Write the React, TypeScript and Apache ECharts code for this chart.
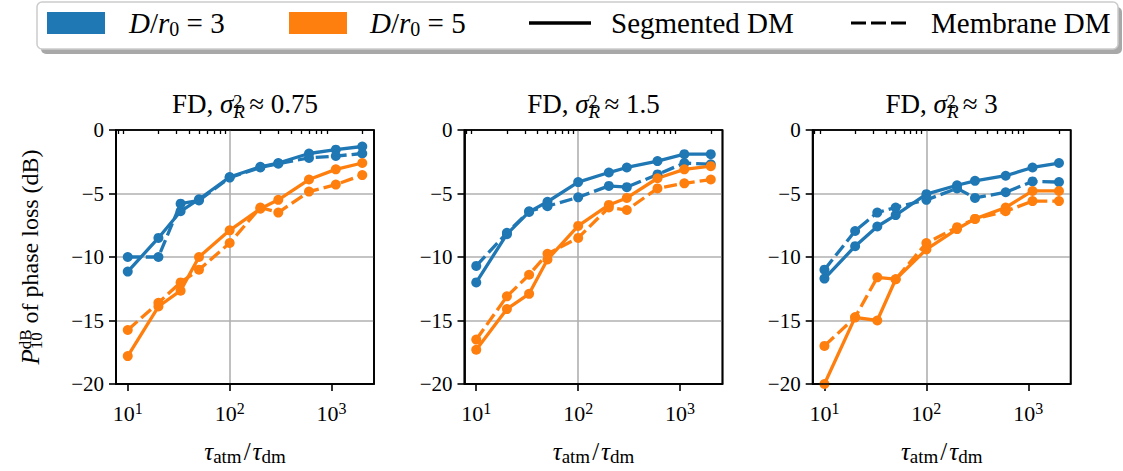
import React, { useEffect, useRef } from 'react';
import * as echarts from 'echarts';

// ---------------- data ----------------
const tauRatio = [10, 20, 33, 50, 100, 200, 300, 600, 1100, 2000];
const sigmaLabels = ['0.75', '1.5', '3'];

const seg3P1 = [-11.15, -8.5, -6.4, -5.45, -3.7, -2.9, -2.6, -1.85, -1.55, -1.3];
const mem3P1 = [-10.0, -10.0, -5.8, -5.55, -3.75, -2.95, -2.65, -2.2, -2.05, -1.85];
const seg5P1 = [-17.8, -13.9, -12.65, -10.0, -7.9, -6.2, -5.5, -3.9, -3.1, -2.6];
const mem5P1 = [-15.75, -13.6, -12.0, -11.0, -8.9, -6.1, -6.5, -4.85, -4.3, -3.55];

const seg3P2 = [-12.0, -8.2, -6.45, -5.65, -4.1, -3.35, -2.95, -2.45, -1.9, -1.9];
const mem3P2 = [-10.7, -8.1, -6.4, -6.0, -5.3, -4.4, -4.5, -3.5, -2.6, -2.7];
const seg5P2 = [-17.3, -14.1, -12.9, -10.2, -7.55, -5.9, -5.35, -3.8, -3.1, -2.85];
const mem5P2 = [-16.5, -13.1, -11.4, -9.75, -8.5, -6.1, -6.3, -4.6, -4.2, -3.9];

const seg3P3 = [-11.7, -9.15, -7.6, -6.7, -5.05, -4.35, -4.0, -3.6, -2.95, -2.6];
const mem3P3 = [-11.0, -7.95, -6.5, -6.1, -5.5, -4.6, -5.35, -4.9, -4.05, -4.1];
const seg5P3 = [-20.0, -14.75, -15.0, -11.75, -9.4, -7.8, -7.0, -6.1, -4.8, -4.8];
const mem5P3 = [-17.0, -14.75, -11.6, -11.75, -8.9, -7.65, -7.0, -6.4, -5.6, -5.6];

const xMajorTicks = [10, 100, 1000];
const xMinorTicks = [8, 9, 20, 30, 40, 50, 60, 70, 80, 90, 200, 300, 400, 500, 600, 700, 800, 900, 2000];
const xMin = 7.67;
const xMax = 2606;
const yMin = -20;
const yMax = 0;
const yStep = 5;

// ---------------- style ----------------
const FONT = '"Liberation Serif", "DejaVu Serif", serif';
const BLUE = '#1f77b4';
const ORANGE = '#ff7f0e';
const GRID_LEFTS = [116, 464.5, 812.7];
const GRID_TOP = 130;
const GRID_W = 258;
const GRID_H = 254;

const tok = (size: number, extra: Record<string, unknown> = {}) => ({
  fontFamily: FONT,
  fontSize: size,
  fontWeight: 'normal',
  color: '#000',
  ...extra,
});

const panels = [
  { sigma: sigmaLabels[0], seg3: seg3P1, mem3: mem3P1, seg5: seg5P1, mem5: mem5P1 },
  { sigma: sigmaLabels[1], seg3: seg3P2, mem3: mem3P2, seg5: seg5P2, mem5: mem5P2 },
  { sigma: sigmaLabels[2], seg3: seg3P3, mem3: mem3P3, seg5: seg5P3, mem5: mem5P3 },
];

const legendLabels: Record<string, string> = {
  d3: '{i|D}{t|/}{i|r}{sub|0}{t| = 3}',
  d5: '{i|D}{t|/}{i|r}{sub|0}{t| = 5}',
  seg: '{t|Segmented DM}',
  mem: '{t|Membrane DM}',
};

const DASH_ICON = 'path://M0,0H15V3H0Z M20,0H35V3H20Z M40,0H55V3H40Z';

export default function App() {
  const ref = useRef<HTMLDivElement>(null);

  useEffect(() => {
    if (!ref.current) return;
    const chart = echarts.init(ref.current, null, { renderer: 'svg' });

    const grid: any[] = [];
    const xAxis: any[] = [];
    const yAxis: any[] = [];
    const series: any[] = [];
    const title: any[] = [];

    panels.forEach((p, i) => {
      grid.push({
        left: GRID_LEFTS[i],
        top: GRID_TOP,
        width: GRID_W,
        height: GRID_H,
        show: true,
        backgroundColor: 'rgba(0,0,0,0)',
        borderColor: '#000000',
        borderWidth: 1.7,
      });

      const axisLine = { show: true, onZero: false, lineStyle: { color: '#000000', width: 1.7 } };
      const tickLine = { color: '#000000', width: 1.6 };

      xAxis.push({
        type: 'log',
        logBase: 10,
        gridIndex: i,
        min: xMin,
        max: xMax,
        position: 'bottom',
        axisLine,
        axisTick: { show: true, customValues: xMajorTicks, length: 7, lineStyle: tickLine },
        axisLabel: {
          show: true,
          customValues: xMajorTicks,
          margin: 16,
          lineHeight: 27,
          formatter: (v: number) => `{b|10}{s|${Math.round(Math.log10(v))}}`,
          rich: {
            b: tok(22, { lineHeight: 27 }),
            s: tok(16, { verticalAlign: 'top', height: 16 }),
          },
        },
        splitLine: { show: true, showMinLine: false, showMaxLine: false, lineStyle: { color: '#b0b0b0', width: 1.6 } },
        name: '{i|τ}{sub|atm}{t|/}{i|τ}{sub|dm}',
        nameLocation: 'middle',
        nameGap: 52,
        nameTextStyle: {
          lineHeight: 30,
          rich: {
            i: tok(25, { fontStyle: 'italic', lineHeight: 30 }),
            t: tok(25, { lineHeight: 30, padding: [0, 2, 0, 2] }),
            sub: tok(19, { verticalAlign: 'bottom', height: 20 }),
          },
        },
      });

      xAxis.push({
        type: 'log',
        logBase: 10,
        gridIndex: i,
        min: xMin,
        max: xMax,
        position: 'bottom',
        axisLine: { show: false },
        axisLabel: { show: false },
        splitLine: { show: false },
        axisTick: { show: true, customValues: xMinorTicks, length: 4, lineStyle: { color: '#000', width: 1.3 } },
      });

      const yA: any = {
        type: 'value',
        gridIndex: i,
        min: yMin,
        max: yMax,
        interval: yStep,
        position: 'left',
        axisLine,
        axisTick: { show: true, length: 7, lineStyle: tickLine },
        axisLabel: {
          show: true,
          margin: 12,
          fontFamily: FONT,
          fontSize: 21,
          color: '#000',
          formatter: (v: number) => (v < 0 ? '\u2212' + String(-v) : String(v)),
        },
        splitLine: { show: true, showMinLine: false, showMaxLine: false, lineStyle: { color: '#b0b0b0', width: 1.6 } },
      };
      if (i === 0) {
        yA.name = '{i|P}{sub|10}{sup|dB}{t| of phase loss (dB)}';
        yA.nameLocation = 'middle';
        yA.nameRotate = 90;
        yA.nameGap = 71;
        yA.nameTextStyle = {
          lineHeight: 30,
          rich: {
            i: tok(25, { fontStyle: 'italic', lineHeight: 30 }),
            t: tok(24, { lineHeight: 30 }),
            sub: tok(17, { verticalAlign: 'bottom', height: 18 }),
            sup: tok(17, { verticalAlign: 'top', height: 20, padding: [0, 0, 0, -17] }),
          },
        };
      }
      yAxis.push(yA);

      const cx = GRID_LEFTS[i] + GRID_W / 2;
      title.push({
        text: `{t|FD, }{i|σ}{sub|R}{sup|2}{t| ≈ ${p.sigma}}`,
        left: cx,
        top: 88,
        padding: 0,
        textAlign: 'center',
        textStyle: {
          fontWeight: 'normal',
          lineHeight: 32,
          rich: {
            t: tok(27, { lineHeight: 32 }),
            i: tok(27, { fontStyle: 'italic', lineHeight: 32 }),
            sub: tok(19, { fontStyle: 'italic', verticalAlign: 'bottom', height: 17 }),
            sup: tok(19, { verticalAlign: 'top', height: 26, padding: [0, 0, 0, -12] }),
          },
        },
      });

      const defs = [
        { vals: p.seg3, color: BLUE, dashed: false },
        { vals: p.mem3, color: BLUE, dashed: true },
        { vals: p.seg5, color: ORANGE, dashed: false },
        { vals: p.mem5, color: ORANGE, dashed: true },
      ];
      defs.forEach((d) => {
        series.push({
          type: 'line',
          xAxisIndex: i * 2,
          yAxisIndex: i,
          data: tauRatio.map((x, k) => [x, d.vals[k]]),
          symbol: 'circle',
          symbolSize: 10,
          showSymbol: true,
          clip: true,
          lineStyle: { color: d.color, width: 3.3, type: d.dashed ? [13, 5] : 'solid' },
          itemStyle: { color: d.color },
          emphasis: { disabled: true },
        });
      });

      // axes frame (spines) drawn through the panel's own scales
      series.push({
        type: 'line',
        xAxisIndex: i * 2,
        yAxisIndex: i,
        data: [
          [xMin, yMin],
          [xMin, yMax],
          [xMax, yMax],
          [xMax, yMin],
          [xMin, yMin],
        ],
        symbol: 'none',
        clip: false,
        silent: true,
        z: 10,
        lineStyle: { color: '#000000', width: 1.7, type: 'solid' },
        emphasis: { disabled: true },
      });
    });

    [
      { name: 'd3', color: BLUE },
      { name: 'd5', color: ORANGE },
      { name: 'seg', color: '#000' },
      { name: 'mem', color: '#000' },
    ].forEach((s) => {
      series.push({
        type: 'scatter',
        name: s.name,
        data: [],
        xAxisIndex: 0,
        yAxisIndex: 0,
        itemStyle: { color: s.color, opacity: 1 },
      });
    });

    const legendDefs = [
      { name: 'd3', left: 47, w: 58, h: 22, icon: 'rect', pad: 19 },
      { name: 'd5', left: 289, w: 58, h: 22, icon: 'rect', pad: 18 },
      { name: 'seg', left: 529, w: 62, h: 3.3, icon: 'rect', pad: 15 },
      { name: 'mem', left: 851, w: 55, h: 3.3, icon: DASH_ICON, pad: 20 },
    ];
    const legend = legendDefs.map((d) => ({
      left: d.left,
      top: 6,
      padding: 0,
      itemGap: 0,
      itemWidth: d.w,
      itemHeight: d.h,
      selectedMode: false,
      z: 10,
      data: [{ name: d.name, icon: d.icon }],
      formatter: (n: string) => legendLabels[n],
      itemStyle: { borderWidth: 0, opacity: 1 },
      textStyle: {
        lineHeight: 34,
        padding: [0, 0, 0, d.pad],
        rich: {
          t: tok(29, { lineHeight: 34 }),
          i: tok(29, { fontStyle: 'italic', lineHeight: 34 }),
          sub: tok(20, { verticalAlign: 'bottom', height: 22 }),
        },
      },
    }));

    chart.setOption({
      animation: false,
      backgroundColor: '#fff',
      textStyle: { fontFamily: FONT },
      title,
      grid,
      xAxis,
      yAxis,
      series,
      legend,
      graphic: {
        elements: [
          {
            type: 'rect',
            z: 1,
            shape: { x: 41, y: 7, width: 1081, height: 47, r: 5 },
            style: { fill: '#a8a8a8' },
            silent: true,
          },
          {
            type: 'rect',
            z: 2,
            shape: { x: 37, y: 2, width: 1081, height: 47, r: 5 },
            style: { fill: '#fff', stroke: '#cccccc', lineWidth: 1.5 },
            silent: true,
          },
        ],
      },
    });

    return () => {
      chart.dispose();
    };
  }, []);

  return (
    <div
      ref={ref}
      style={{ position: 'absolute', left: 0, top: 0, width: 1123, height: 471, background: '#fff' }}
    />
  );
}
